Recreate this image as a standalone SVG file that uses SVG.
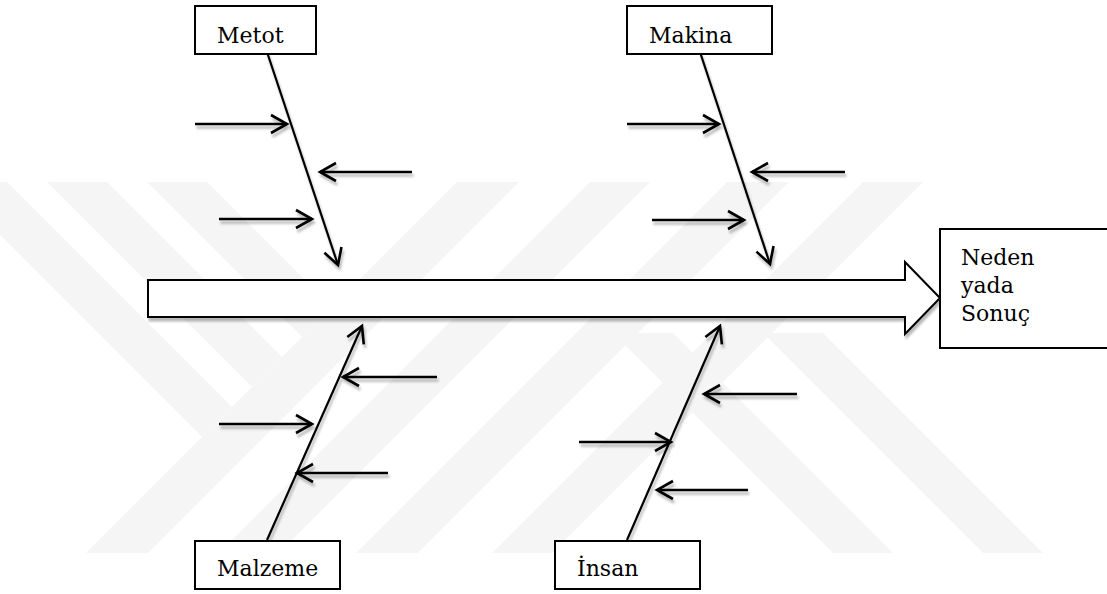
<svg xmlns="http://www.w3.org/2000/svg" width="1107" height="594" viewBox="0 0 1107 594">
  <defs>
    <style>
      .box { fill: #ffffff; stroke: #000000; stroke-width: 2; }
      .label { font-family: "DejaVu Serif", "Liberation Serif", serif; font-size: 22px; fill: #000000; }
      .spine { stroke: #000000; stroke-width: 2.2; fill: none; marker-end: url(#open-head); }
      .rib { stroke: #000000; stroke-width: 2.6; fill: none; marker-end: url(#open-head); }
      .band { fill: #f5f5f5; }
    </style>
    <marker id="open-head" markerUnits="userSpaceOnUse" markerWidth="40" markerHeight="40" refX="0" refY="0" orient="auto" overflow="visible">
      <path d="M-16,-9 L0,0 L-16,9" fill="none" stroke="#000000" stroke-width="2.6" stroke-linejoin="miter"/>
    </marker>
    <filter id="soft-shadow" x="-10%" y="-10%" width="120%" height="130%">
      <feDropShadow dx="1.5" dy="3.5" stdDeviation="0.9" flood-color="#000000" flood-opacity="0.28"/>
    </filter>
    <clipPath id="band-area">
      <rect x="0" y="182" width="1107" height="371"/>
    </clipPath>
  </defs>

  <rect width="1107" height="594" fill="#ffffff"/>

  <!-- faint background emblem -->
  <g id="emblem" clip-path="url(#band-area)">
    <polygon class="band" points="457,182 519,182 148,553 86,553"/>
    <polygon class="band" points="590,182 650,182 279,553 219,553"/>
    <polygon class="band" points="727,182 789,182 418,553 356,553"/>
    <polygon class="band" points="863,182 923,182 552,553 492,553"/>
    <polygon class="band" points="147,182 207,182 332,307 302,337"/>
    <polygon class="band" points="47,182 107,182 282,357 252,387"/>
    <polygon class="band" points="-53,182 7,182 232,407 202,437"/>
    <polygon class="band" points="613,333 673,333 893,553 833,553"/>
    <polygon class="band" points="763,333 823,333 1043,553 983,553"/>
  </g>

  <!-- connectors: spines, ribs and the main effect arrow -->
  <g id="connectors" filter="url(#soft-shadow)">
    <polygon points="148,280 905,280 905,262 940,298 905,334 905,317 148,317" fill="#ffffff" stroke="#000000" stroke-width="2"/>

    <line class="spine" x1="267" y1="52" x2="338" y2="265"/>
    <line class="spine" x1="700" y1="52" x2="770" y2="264"/>
    <line class="spine" x1="267" y1="540" x2="362" y2="326"/>
    <line class="spine" x1="627" y1="540" x2="720" y2="326"/>

    <line class="rib" x1="195" y1="124" x2="287" y2="124"/>
    <line class="rib" x1="412" y1="172" x2="320" y2="172"/>
    <line class="rib" x1="219" y1="219" x2="312" y2="219"/>

    <line class="rib" x1="627" y1="124" x2="719" y2="124"/>
    <line class="rib" x1="845" y1="172" x2="752" y2="172"/>
    <line class="rib" x1="652" y1="220" x2="744" y2="220"/>

    <line class="rib" x1="437" y1="377" x2="343" y2="377"/>
    <line class="rib" x1="219" y1="424" x2="312" y2="424"/>
    <line class="rib" x1="388" y1="473" x2="297" y2="473"/>

    <line class="rib" x1="797" y1="394" x2="704" y2="394"/>
    <line class="rib" x1="579" y1="442" x2="671" y2="442"/>
    <line class="rib" x1="748" y1="490" x2="657" y2="490"/>
  </g>

  <g id="metot">
    <rect class="box" x="195" y="6" width="121" height="48"/>
    <text class="label" x="217" y="43">Metot</text>
  </g>
  <g id="makina">
    <rect class="box" x="627" y="6" width="145" height="48"/>
    <text class="label" x="649" y="43">Makina</text>
  </g>
  <g id="malzeme">
    <rect class="box" x="195" y="541" width="145" height="48"/>
    <text class="label" x="217" y="576">Malzeme</text>
  </g>
  <g id="insan">
    <rect class="box" x="555" y="541" width="145" height="48"/>
    <text class="label" x="577" y="576">İnsan</text>
  </g>
  <g id="sonuc">
    <rect class="box" x="940" y="229" width="170" height="119"/>
    <text class="label" x="961" y="265">Neden</text>
    <text class="label" x="961" y="293">yada</text>
    <text class="label" x="961" y="321">Sonuç</text>
  </g>
</svg>
